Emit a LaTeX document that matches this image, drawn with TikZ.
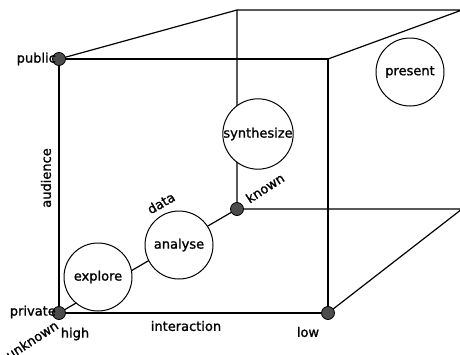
\documentclass[tikz,border=0pt]{standalone}
\usepackage{fontspec}
\setmainfont{DejaVu Sans}
\newfontfamily\lblfont{DejaVu Sans}[FakeBold=1.2]
\begin{document}
\begin{tikzpicture}[x=1pt,y=-1pt,
  edge/.style={line width=1.2pt, line cap=round},
  corner/.style={circle, draw=black, fill=black!70, line width=0.8pt, minimum size=13pt, inner sep=0pt},
  stage/.style={circle, draw=black, fill=white, line width=1pt, minimum size=68pt, inner sep=0pt, font=\lblfont\fontsize{13}{15}\selectfont},
  lbl/.style={inner sep=0pt, font=\lblfont\fontsize{13}{15}\selectfont}]
\useasboundingbox (0,0) rectangle (460,354);
\clip (0,0) rectangle (460,354);

% cube corners
\coordinate (pub) at (59,59);
\coordinate (prv) at (59,313);
\coordinate (lowc) at (328,313);
\coordinate (ftr) at (328,59);
\coordinate (btl) at (237,10);
\coordinate (btr) at (462,10);
\coordinate (kno) at (237,209);
\coordinate (bbr) at (462,209);

% cube edges
\draw[edge] (pub) -- (ftr) -- (lowc) -- (prv) -- cycle;
\draw[edge] (pub) -- (btl) -- (btr) -- (ftr);
\draw[edge] (btl) -- (kno) -- (bbr) -- (lowc);
\draw[edge] (prv) -- (kno);

% stages of the process
\node[stage] (explore) at (98,277) {explore};
\node[stage] (analyse) at (179,245) {analyse};
\node[stage] (synth) at (258,134) {synthesize};
\node[stage] (present) at (410,72) {present};

% corner markers
\node[corner] (dpub) at (pub) {};
\node[corner] (dprv) at (prv) {};
\node[corner] (dkno) at (kno) {};
\node[corner] (dlow) at (lowc) {};

% axis labels
\node[lbl, anchor=east] (tpub) at ([xshift=-3pt]dpub.center) {public};
\node[lbl, anchor=east] (tprv) at ([xshift=-3pt,yshift=1pt]dprv.center) {private};
\node[lbl, rotate=90] (taud) at (46,178) {audience};
\node[lbl] (tint) at (186,326) {interaction};
\node[lbl] (thigh) at (75,334) {high};
\node[lbl] (tlow) at (308,332) {low};
\node[lbl, rotate=33] (tunk) at (32,340) {unknown};
\node[lbl, rotate=33] (tkno) at (265,188) {known};
\node[lbl, rotate=30] (tdata) at (161,203) {data};
\end{tikzpicture}
\end{document}
